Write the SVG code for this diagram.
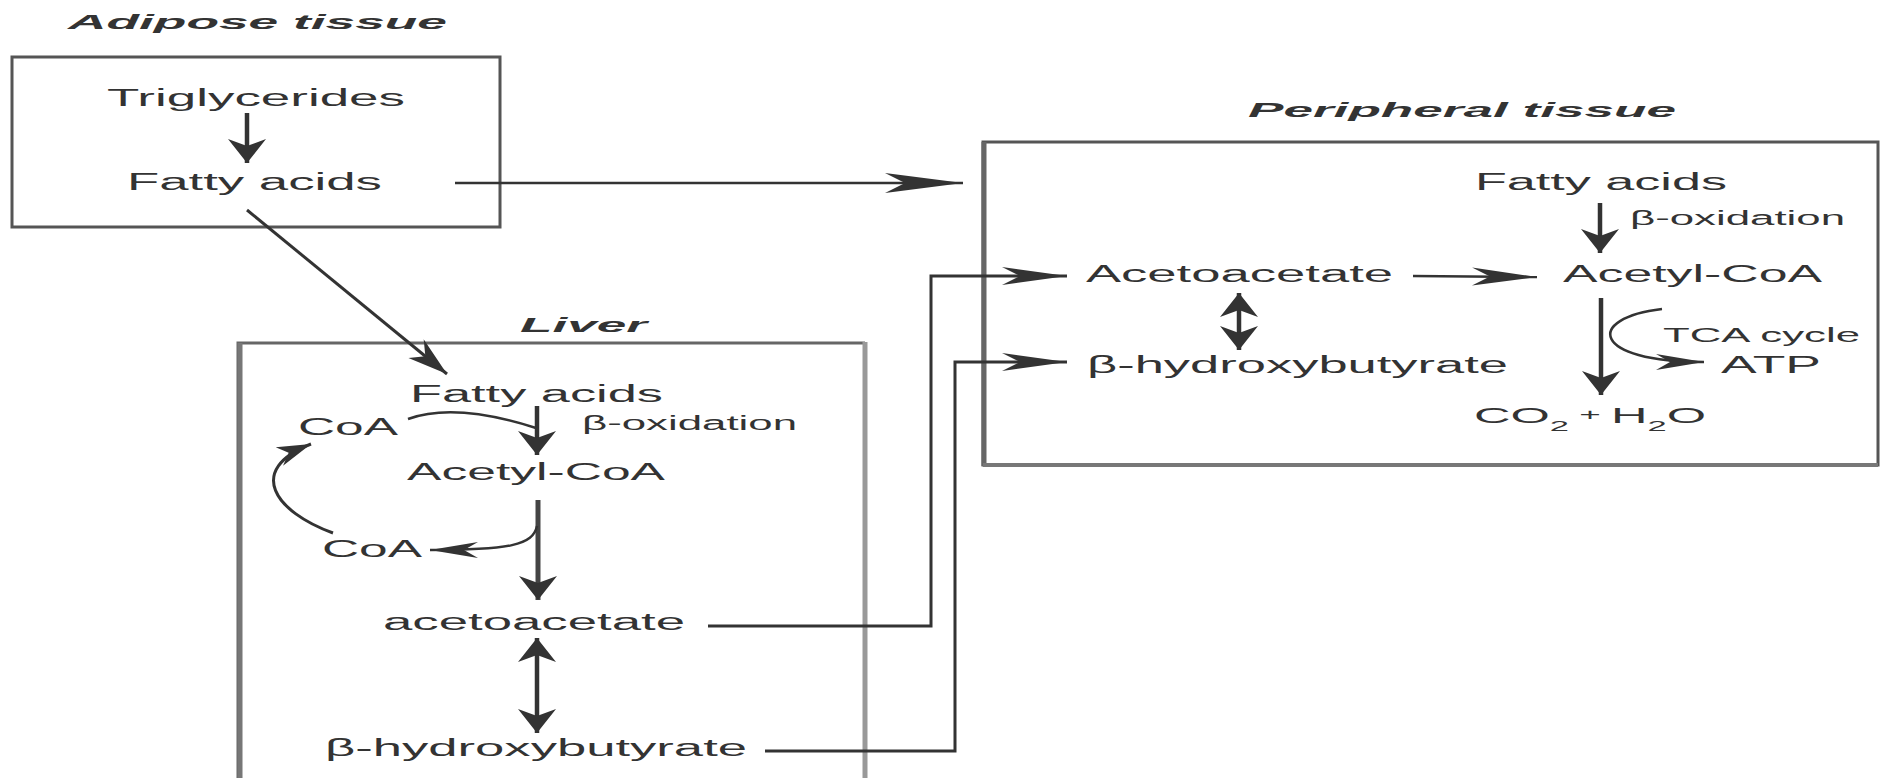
<svg xmlns="http://www.w3.org/2000/svg" width="1882" height="778" viewBox="0 0 1882 778">
<style>
  text { font-family: "Liberation Sans", Arial, sans-serif; fill: #333; }
  .lbl { font-size: 23px; }
  .sm { font-size: 20px; }
  .ttl { font-size: 21px; font-weight: bold; font-style: italic; }
  .box { fill: none; stroke: #555; stroke-width: 3; }
  .ln { fill: none; stroke: #333; stroke-width: 2.5; }
  .sh { fill: none; stroke: #333; stroke-width: 4.5; }
  .cn { fill: none; stroke: #333; stroke-width: 3; }
  .hd { fill: #333; stroke: none; }
</style>
<defs>
  <marker id="hL" markerUnits="userSpaceOnUse" markerWidth="100" markerHeight="30" refX="0" refY="0" orient="auto" overflow="visible"><path class="hd" d="M0,0 L-78,-10 L-58,0 L-78,10 Z"/></marker>
  <marker id="hC" markerUnits="userSpaceOnUse" markerWidth="100" markerHeight="30" refX="0" refY="0" orient="auto" overflow="visible"><path class="hd" d="M0,0 L-65,-9 L-47,0 L-65,9 Z"/></marker>
  <marker id="hD" markerUnits="userSpaceOnUse" markerWidth="60" markerHeight="30" refX="0" refY="0" orient="auto" overflow="visible"><path class="hd" d="M0,0 L-40,-12 L-28,0 L-40,12 Z"/></marker>
  <marker id="hS" markerUnits="userSpaceOnUse" markerWidth="60" markerHeight="30" refX="0" refY="0" orient="auto" overflow="visible"><path class="hd" d="M0,0 L-48,-8 L-34,0 L-48,8 Z"/></marker>
  <marker id="hY" markerUnits="userSpaceOnUse" markerWidth="60" markerHeight="30" refX="0" refY="0" orient="auto" overflow="visible"><path class="hd" d="M0,0 L-34,-10 L-24,0 L-34,10 Z"/></marker>
  <marker id="tri" markerUnits="userSpaceOnUse" markerWidth="40" markerHeight="50" refX="0" refY="0" orient="auto-start-reverse" overflow="visible"><path class="hd" d="M0,0 L-24,-19 L-17,0 L-24,19 Z"/></marker>
</defs>
<rect x="0" y="0" width="1882" height="778" fill="#fff"/>

<g id="adipose">
  <rect class="box" x="12" y="57" width="488" height="170"/>
  <text class="ttl" x="68" y="29" textLength="379" lengthAdjust="spacingAndGlyphs">Adipose tissue</text>
  <text class="lbl" x="107" y="106" textLength="298" lengthAdjust="spacingAndGlyphs">Triglycerides</text>
  <text class="lbl" x="127" y="190" textLength="255" lengthAdjust="spacingAndGlyphs">Fatty acids</text>
</g>

<g id="liver">
  <path d="M238,784 V343 H865" fill="none" stroke="#666" stroke-width="3"/>
  <line x1="240" y1="343" x2="240" y2="778" stroke="#777" stroke-width="5"/>
  <line x1="865" y1="342" x2="865" y2="778" stroke="#999" stroke-width="5"/>
  <text class="ttl" x="520" y="332" textLength="127" lengthAdjust="spacingAndGlyphs">Liver</text>
  <text class="lbl" x="410" y="402" textLength="253" lengthAdjust="spacingAndGlyphs">Fatty acids</text>
  <text class="lbl" x="298" y="435" textLength="100" lengthAdjust="spacingAndGlyphs">CoA</text>
  <text class="sm" x="582" y="430" textLength="215" lengthAdjust="spacingAndGlyphs">β-oxidation</text>
  <text class="lbl" x="407" y="480" textLength="258" lengthAdjust="spacingAndGlyphs">Acetyl-CoA</text>
  <text class="lbl" x="322" y="557" textLength="100" lengthAdjust="spacingAndGlyphs">CoA</text>
  <text class="lbl" x="383" y="630" textLength="302" lengthAdjust="spacingAndGlyphs">acetoacetate</text>
  <text class="lbl" x="325" y="756" textLength="422" lengthAdjust="spacingAndGlyphs">β-hydroxybutyrate</text>
</g>

<g id="peripheral">
  <rect class="box" x="983" y="142" width="895" height="323"/>
  <line x1="984" y1="142" x2="984" y2="466" stroke="#666" stroke-width="5"/>
  <line x1="983" y1="465" x2="1878" y2="465" stroke="#777" stroke-width="4"/>
  <text class="ttl" x="1248" y="117" textLength="428" lengthAdjust="spacingAndGlyphs">Peripheral tissue</text>
  <text class="lbl" x="1475" y="190" textLength="252" lengthAdjust="spacingAndGlyphs">Fatty acids</text>
  <text class="sm" x="1630" y="225" textLength="215" lengthAdjust="spacingAndGlyphs">β-oxidation</text>
  <text class="lbl" x="1086" y="282" textLength="307" lengthAdjust="spacingAndGlyphs">Acetoacetate</text>
  <text class="lbl" x="1563" y="282" textLength="259" lengthAdjust="spacingAndGlyphs">Acetyl-CoA</text>
  <text class="lbl" x="1087" y="373" textLength="421" lengthAdjust="spacingAndGlyphs">β-hydroxybutyrate</text>
  <text class="sm" x="1663" y="342" textLength="197" lengthAdjust="spacingAndGlyphs">TCA cycle</text>
  <text class="lbl" x="1721" y="373" textLength="100" lengthAdjust="spacingAndGlyphs">ATP</text>
  <text transform="translate(1474 423) scale(2.3 1)" font-size="22" x="0" y="0">CO<tspan font-size="15" dy="8">2</tspan><tspan font-size="16" dy="-11"> + </tspan><tspan dy="3">H</tspan><tspan font-size="15" dy="8">2</tspan><tspan dy="-8">O</tspan></text>
</g>

<g id="connectors">
  <!-- adipose internal -->
  <line class="sh" x1="247" y1="113" x2="247" y2="163" marker-end="url(#tri)"/>
  <!-- adipose to peripheral -->
  <line class="ln" x1="455" y1="183" x2="963" y2="183" marker-end="url(#hL)"/>
  <!-- adipose to liver -->
  <line class="cn" x1="247" y1="210" x2="447" y2="374" marker-end="url(#hD)"/>
  <!-- liver internal -->
  <path class="ln" d="M408,419 Q455,402 536,428"/>
  <line class="sh" x1="537" y1="406" x2="537" y2="455" marker-end="url(#tri)"/>
  <line x1="538" y1="500" x2="538" y2="600" stroke="#444" stroke-width="5" marker-end="url(#tri)"/>
  <path class="ln" d="M537,526 C533,545 510,550 430,550" marker-end="url(#hS)"/>
  <path class="cn" d="M333,533 C275,512 245,470 311,444" marker-end="url(#hY)"/>
  <line class="sh" x1="537" y1="638" x2="537" y2="733" marker-start="url(#tri)" marker-end="url(#tri)"/>
  <!-- liver to peripheral -->
  <path class="cn" d="M708,626 H931 V276 H1067" marker-end="url(#hC)"/>
  <path class="cn" d="M765,751 H955 V362 H1067" marker-end="url(#hC)"/>
  <!-- peripheral internal -->
  <line class="sh" x1="1600" y1="203" x2="1600" y2="253" marker-end="url(#tri)"/>
  <line class="ln" x1="1413" y1="276" x2="1537" y2="277" marker-end="url(#hC)"/>
  <line class="sh" x1="1239" y1="293" x2="1239" y2="350" marker-start="url(#tri)" marker-end="url(#tri)"/>
  <line class="sh" x1="1601" y1="298" x2="1601" y2="395" marker-end="url(#tri)"/>
  <path class="ln" d="M1662,309 C1585,318 1590,362 1704,362" marker-end="url(#hS)"/>
</g>
</svg>
